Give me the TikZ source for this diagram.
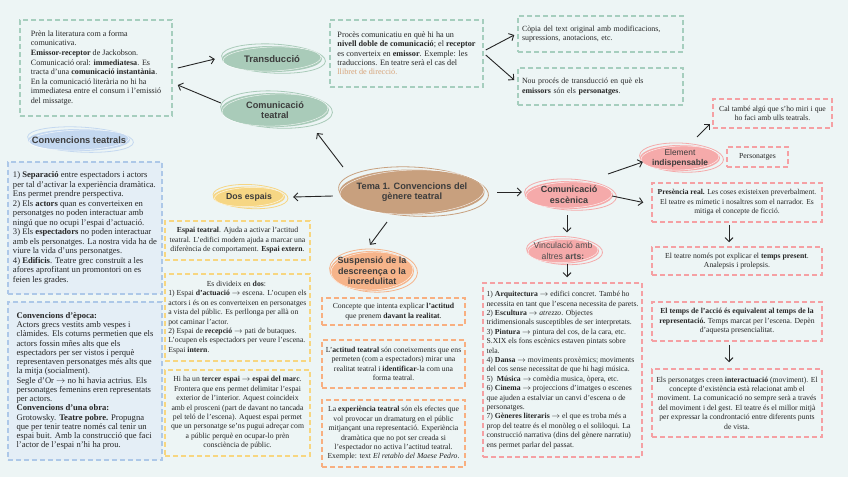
\documentclass[tikz,border=0pt]{standalone}
\usepackage{fontspec}
\setmainfont{Liberation Serif}
\newfontfamily\hdr{Liberation Sans}
\usetikzlibrary{shapes.geometric,arrows.meta,calc}
\definecolor{bg}{HTML}{EDF5F5}
\definecolor{grn}{HTML}{A6CEBE}
\definecolor{grnf}{HTML}{A9CBB9}
\definecolor{blu}{HTML}{ADC8E8}
\definecolor{bluf}{HTML}{C4D8F0}
\definecolor{blubox}{HTML}{E4EEF6}
\definecolor{yel}{HTML}{F7D680}
\definecolor{yelf}{HTML}{F6D684}
\definecolor{org}{HTML}{F8AF80}
\definecolor{orgf}{HTML}{F6B48A}
\definecolor{pnk}{HTML}{F5A0A3}
\definecolor{pnkf}{HTML}{F5AAAA}
\definecolor{tanf}{HTML}{C8A07E}
\definecolor{ink}{HTML}{262626}
\definecolor{hink}{HTML}{3C3C3C}
\definecolor{llib}{HTML}{D8A47A}
\newcommand\ra{$\rightarrow$}
\newcommand\sketchell[4]{%
  \draw[#2, line width=0.8pt, rotate around={-3:(#1.center)}] ($(#1.center)+(1.5,-0.5)$) ellipse [x radius=#3, y radius=#4];
  \draw[white, line width=0.5pt, opacity=0.8, rotate around={2:(#1.center)}] (#1.center) ellipse [x radius=#3-3, y radius=#4-2.5];
}
\tikzset{
  arr/.style={draw=ink, line width=0.9pt, -{Straight Barb[length=4pt,width=8pt]}},
  bx/.style={draw, dash pattern=on 5pt off 3pt, line width=1.5pt, inner sep=2pt, text=ink, font=\fontsize{7.7}{9.4}\selectfont},
  ell/.style={ellipse, inner sep=0pt, draw=none},
  ht/.style={font=\hdr\bfseries\fontsize{9.2}{10.6}\selectfont, text=hink, align=center, inner sep=0pt},
}
\begin{document}
\begin{tikzpicture}[x=1pt,y=-1pt]
\fill[bg] (0,0) rectangle (848,477);
\useasboundingbox (0,0) rectangle (848,477);

% ---------- ellipses ----------
\node[ell, fill=grnf, minimum width=100pt, minimum height=26pt] (E1) at (272,59) {};
\sketchell{E1}{grnf}{52}{14.5}
\node[ht, font=\hdr\bfseries\fontsize{9.5}{11}\selectfont] (E1t) at (E1) {Transducció};

\node[ell, fill=grnf, minimum width=108pt, minimum height=34pt] (E2) at (275,110) {};
\sketchell{E2}{grnf}{56}{18.5}
\node[ht] (E2t) at (E2) {Comunicació\\teatral};

\node[ell, fill=bluf, minimum width=102pt, minimum height=22pt] (E3) at (79,140) {};
\sketchell{E3}{bluf}{53}{12.5}
\node[ht, font=\hdr\bfseries\fontsize{9.3}{11}\selectfont] (E3t) at (E3) {Convencions teatrals};

\node[ell, fill=tanf, minimum width=145pt, minimum height=45pt] (E4) at (412,192) {};
\sketchell{E4}{tanf}{75}{24.5}
\node[ht] (E4t) at (E4) {Tema 1. Convencions del\\gènere teatral};

\node[ell, fill=yelf, minimum width=72pt, minimum height=21pt] (E5) at (249,197) {};
\sketchell{E5}{yelf}{37.5}{12}
\node[ht, font=\hdr\bfseries\fontsize{8.7}{10}\selectfont] (E5t) at (E5) {Dos espais};

\node[ell, fill=orgf, minimum width=84pt, minimum height=40pt] (E6) at (372,271) {};
\sketchell{E6}{orgf}{44}{21.5}
\node[ht, font=\hdr\bfseries\fontsize{9}{10.5}\selectfont] (E6t) at (E6) {Suspensió de la\\descreença o la\\incredulitat};

\node[ell, fill=pnkf, minimum width=88pt, minimum height=28pt] (E7) at (569,195) {};
\sketchell{E7}{pnkf}{46}{15.5}
\node[ht, font=\hdr\bfseries\fontsize{9}{10.6}\selectfont] (E7t) at (E7) {Comunicació\\escènica};

\node[ell, fill=pnkf, minimum width=80pt, minimum height=26pt] (E8) at (680,158) {};
\sketchell{E8}{pnkf}{42}{14.5}
\node[ht, font=\hdr\fontsize{8.4}{10}\selectfont] (E8t) at (E8) {Element\\\textbf{indispensable}};

\node[ell, fill=pnkf, minimum width=72pt, minimum height=25pt] (E9) at (563,251) {};
\sketchell{E9}{pnkf}{38}{14}
\node[ht, font=\hdr\fontsize{8.7}{10.6}\selectfont, text=hink!90] (E9t) at (E9) {Vinculació amb\\altres \textbf{arts:}};

% ---------- boxes ----------
\node[bx, draw=grn, minimum width=152pt, minimum height=96pt, align=left, font=\fontsize{8.1}{9.6}\selectfont] (B1) at (96,68) {Prèn la literatura com a forma\\comunicativa.\\\textbf{Emissor-receptor} de Jackobson.\\Comunicació oral: \textbf{immediatesa}. Es\\tracta d'una \textbf{comunicació instantània}.\\En la comunicació literària no hi ha\\immediatesa entre el consum i l'emissió\\del missatge.};

\node[bx, draw=grn, minimum width=153pt, minimum height=67pt, align=left, font=\fontsize{8.2}{9.3}\selectfont] (B2) at (406.5,53.5) {Procès comunicatiu en què hi ha un\\\textbf{nivell doble de comunicació}; el \textbf{receptor}\\es converteix en \textbf{emissor}. Exemple: les\\traduccions. En teatre serà el cas del\\\textcolor{llib}{llibret de direcció.}};

\node[bx, draw=grn, minimum width=165pt, minimum height=36pt, align=left, text width=157pt, font=\fontsize{7.9}{9.4}\selectfont] (B3) at (600.5,34) {Còpia del text original amb modificacions,\\supressions, anotacions, etc.};

\node[bx, draw=grn, minimum width=165pt, minimum height=37pt, align=left, text width=157pt, font=\fontsize{7.9}{9.4}\selectfont] (B4) at (600.5,86.5) {Nou procés de transducció en què els\\\textbf{emissors} són els \textbf{personatges}.};

\node[bx, draw=pnk, minimum width=119pt, minimum height=29pt, align=center] (B5) at (772.5,113.5) {Cal també algú que s'ho miri i que\\ho faci amb ulls teatrals.};

\node[bx, draw=pnk, minimum width=61pt, minimum height=20pt, align=center] (B6) at (757.5,157) {Personatges};

\node[bx, draw=pnk, minimum width=170pt, minimum height=39pt, align=center, font=\fontsize{7.55}{9.4}\selectfont] (B7) at (737,202.5) {\textbf{Presència real.} Les coses existeixen preverbalment.\\El teatre es mímetic i nosaltres som el narrador. Es\\mitiga el concepte de ficció.};

\node[bx, draw=pnk, minimum width=170pt, minimum height=28pt, align=center] (B8) at (737,261) {El teatre només pot explicar el \textbf{temps present}.\\Analepsis i prolepsis.};

\node[bx, draw=pnk, minimum width=170pt, minimum height=39pt, align=center] (B9) at (737,321.5) {\textbf{El temps de l'acció és equivalent al temps de la}\\\textbf{representació.} Temps marcat per l'escena. Depèn\\d'aquesta presencialitat.};

\node[bx, draw=pnk, minimum width=170pt, minimum height=68pt, align=center] (B10) at (737,403) {Els personatges creen \textbf{interactuació} (moviment). El\\concepte d'existència està relacionat amb el\\moviment. La comunicació no sempre serà a través\\del moviment i del gest. El teatre és el millor mitjà\\per expressar la condrontació entre diferents punts\\de vista.};

\node[bx, draw=pnk, minimum width=159pt, minimum height=174pt, align=left] (B11) at (562.5,370) {1) \textbf{Arquitectura} \ra{} edifici concret. També ho\\necessita en tant que l'escena necessita de parets.\\2) \textbf{Escultura} \ra{} \textit{atrezzo}. Objectes\\tridimensionals susceptibles de ser interpretats.\\3) \textbf{Pintura} \ra{} pintura del cos, de la cara, etc.\\S.XIX els fons escènics estaven pintats sobre\\tela.\\4) \textbf{Dansa} \ra{} moviments proxèmics; moviments\\del cos sense necessitat de que hi hagi música.\\5)\ \ \textbf{Música} \ra{} comèdia musica, òpera, etc.\\6) \textbf{Cinema} \ra{} projeccions d'imatges o escenes\\que ajuden a estalviar un canvi d'escena o de\\personatges.\\7) \textbf{Gèneres literaris} \ra{} el que es troba més a\\prop del teatre és el monòleg o el soliloqui. La\\construcció narrativa (dins del gènere narratiu)\\ens permet parlar del passat.};

\node[bx, draw=org, minimum width=143pt, minimum height=27pt, align=center] (B12) at (393.5,311.5) {Concepte que intenta explicar \textbf{l'actitud}\\que prenem \textbf{davant la realitat}.};

\node[bx, draw=org, minimum width=143pt, minimum height=48pt, align=center] (B13) at (393.5,364) {L'\textbf{actitud teatral} són coneixements que ens\\permeten (com a espectadors) mirar una\\realitat teatral i \textbf{identificar}-la com una\\forma teatral.};

\node[bx, draw=org, minimum width=143pt, minimum height=67pt, align=center] (B14) at (393.5,433.5) {La \textbf{experiència teatral} són els efectes que\\vol provocar un dramaturg en el públic\\mitjançant una representació. Experiència\\dramàtica que no pot ser creada si\\l'espectador no activa l'actitud teatral.\\Exemple: text \textit{El retablo del Maese Pedro}.};

\node[bx, draw=yel, minimum width=145pt, minimum height=39pt, align=center] (B15) at (237.5,240.5) {\textbf{Espai teatral}. Ajuda a activar l'actitud\\teatral. L'edifici modern ajuda a marcar una\\diferència de comportament. \textbf{Espai extern}.};

\node[bx, draw=yel, minimum width=145pt, minimum height=87pt, align=left] (B16) at (237.5,317.5) {\makebox[136pt][c]{Es divideix en \textbf{dos}:}\\1) Espai \textbf{d'actuació} \ra{} escena. L'ocupen els\\actors i és on es converteixen en personatges\\a vista del públic. Es perllonga per allà on\\pot caminar l'actor.\\2) Espai de \textbf{recepció} \ra{} pati de butaques.\\L'ocupen els espectadors per veure l'escena.\\Espai \textbf{intern}.};

\node[bx, draw=yel, minimum width=145pt, minimum height=86pt, align=center] (B17) at (237.5,413) {Hi ha un \textbf{tercer espai} \ra{} \textbf{espai del marc}.\\Frontera que ens permet delimitar l'espai\\exterior de l'interior. Aquest coincideix\\amb el prosceni (part de davant no tancada\\pel teló de l'escena). Aquest espai permet\\que un personatge se'ns pugui adreçar com\\a públic perquè en ocupar-lo prèn\\consciència de públic.};

\node[bx, draw=blu, fill=blubox, minimum width=154pt, minimum height=132pt, align=left, font=\fontsize{8.6}{9.5}\selectfont] (B18) at (85,228) {1) \textbf{Separació} entre espectadors i actors\\per tal d'activar la experiència dramàtica.\\Ens permet prendre perspectiva.\\2) Els \textbf{actors} quan es converteixen en\\personatges no poden interactuar amb\\ningú que no ocupi l'espai d'actuació.\\3) Els \textbf{espectadors} no poden interactuar\\amb els personatges. La nostra vida ha de\\viure la vida d'uns personatges.\\4) \textbf{Edificis}. Teatre grec construït a les\\afores aprofitant un promontori on es\\feien les grades.};

\node[bx, draw=blu, fill=blubox, minimum width=154pt, minimum height=158pt, align=left, font=\fontsize{8.6}{9.25}\selectfont] (B19) at (85,381) {\textbf{Convencions d'època:}\\Actors grecs vestits amb vespes i\\clàmides. Els coturns permetien que els\\actors fossin mñes alts que els\\espectadors per ser vistos i perquè\\representaven personatges més alts que\\la mitja (socialment).\\Segle d'Or \ra{} no hi havia actrius. Els\\personatges femenins eren representats\\per actors.\\\textbf{Convencions d'una obra:}\\Grotowsky. \textbf{Teatre pobre.} Propugna\\que per tenir teatre només cal tenir un\\espai buit. Amb la construcció que faci\\l'actor de l'espai n'hi ha prou.};

% ---------- connectors ----------
\draw[arr] ($(B1.east)+(5,0)$) -- ($(E1.west)+(-7,0)$);
\draw[arr] ($(E2.west)+(0,-7)$) -- ($(B1.east)+(5,17)$);
\draw[arr] ($(E4.center)+(-69,-25)$) -- ($(E2.center)+(42,23)$);
\draw[arr] ($(E4.west)+(-6.5,4)$) -- ($(E5.east)+(8,0)$);
\draw[arr] ($(E4.center)+(-25,30)$) -- ($(E6.north)+(-2,-6)$);
\draw[arr] ($(E4.east)+(12.5,0)$) -- ($(E7.west)+(-3,-3)$);
\draw[arr] ($(E7.center)+(39,-21)$) -- ($(E8.west)+(3,4)$);
\draw[arr] ($(E7.east)+(-1,1)$) -- ($(B7.west)+(-8,0)$);
\draw[arr] ($(E7.south)+(-2,6)$) -- ($(E9.north)+(4,-6)$);
\draw[arr] ($(E9.south)+(4,0)$) -- ($(B11.north)+(4.5,-5)$);
\draw[arr] ($(E8.center)+(17,-21)$) -- ($(B5.south west)+(-2,-5)$);
\draw[arr] ($(B7.south)+(-8,2)$) -- ($(B8.north)+(-8,-4)$);
\draw[arr] ($(B9.south)+(-8,3)$) -- ($(B10.north)+(-8,-6)$);
\draw[arr] ($(B2.east)+(2,-3.5)$) -- ($(B3.west)+(-3,1)$);
\draw[arr] ($(B2.east)+(2,1.5)$) -- ($(B4.west)+(-3,-6.5)$);
\end{tikzpicture}
\end{document}
